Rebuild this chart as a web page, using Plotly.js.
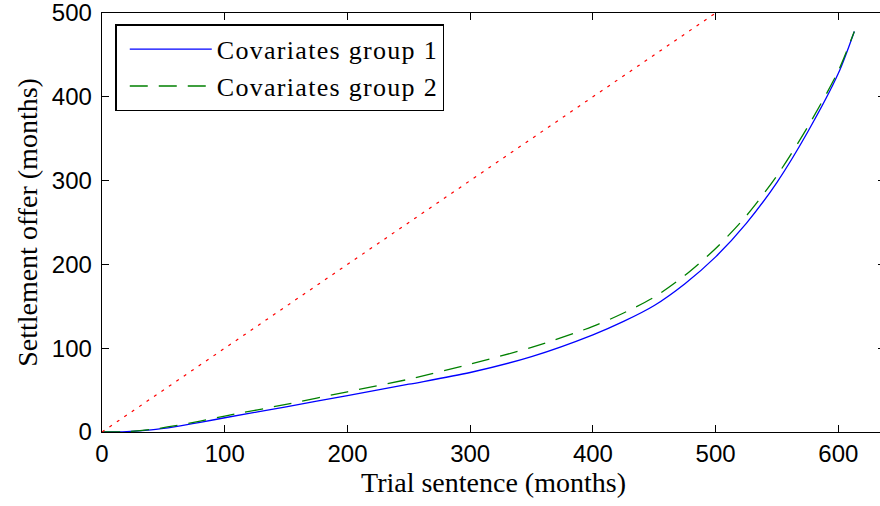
<!DOCTYPE html>
<html>
<head>
<meta charset="utf-8">
<script src="https://cdn.plot.ly/plotly-3.0.1.min.js"></script>
<style>
html,body{margin:0;padding:0;overflow:hidden;background:#fff}
.legendtext{letter-spacing:1.3px}
</style>
</head>
<body>
<div id="chart" style="width:885px;height:506px"></div>
<script>
// Trial sentence (months) vs settlement offer (months)
const xGroup1 = [0, 20, 40, 60, 80, 100, 150, 200, 250, 300, 350, 400, 425, 450, 475, 500, 525, 550, 575, 600, 613];
const yGroup1 = [0, 0.4, 2.5, 6.5, 11.5, 17, 30, 43.5, 57, 71, 90, 116, 132, 151, 177, 209, 249, 298, 358, 428, 478];
const xGroup2 = [0, 20, 40, 60, 80, 100, 150, 200, 250, 300, 350, 400, 425, 450, 475, 500, 525, 550, 575, 600, 613];
const yGroup2 = [0, 0.4, 3, 7.5, 13, 19, 33, 48, 63, 81, 101, 126, 142, 161, 187, 219, 258, 306, 364, 431, 478];
const xDiag = [0, 640];
const yDiag = [0, 640];
const seriesNames = ["Covariates group 1", "Covariates group 2"];
const xTicks = [0, 100, 200, 300, 400, 500, 600];
const yTicks = [0, 100, 200, 300, 400, 500];

const traces = [
  {x: xGroup1, y: yGroup1, name: seriesNames[0], type: "scatter", mode: "lines",
   line: {color: "#0000ff", width: 1.3, shape: "spline", smoothing: 0.8}},
  {x: xGroup2, y: yGroup2, name: seriesNames[1], type: "scatter", mode: "lines",
   line: {color: "#008000", width: 1.3, dash: "18px,11px", shape: "spline", smoothing: 0.8}},
  {x: xDiag, y: yDiag, name: "diag", type: "scatter", mode: "lines", showlegend: false,
   line: {color: "#ff0000", width: 1.2, dash: "3px,6px"}}
];

const axisCommon = {
  showgrid: false, zeroline: false, showline: true, linecolor: "#000", linewidth: 1.3,
  ticks: "inside", ticklen: 7, tickwidth: 1, tickcolor: "#000", mirror: "ticks",
  ticklabeloverflow: "allow",
  tickfont: {family: "Liberation Sans, Arial, sans-serif", size: 24, color: "#000"}
};

const layout = {
  width: 885, height: 506,
  margin: {l: 101.5, r: 0, t: 12.5, b: 73.7},
  paper_bgcolor: "#fff", plot_bgcolor: "#fff",
  showlegend: true,
  xaxis: Object.assign({}, axisCommon, {
    range: [0, 638], tickvals: xTicks, ticktext: xTicks.map(String),
    title: {text: "Trial sentence (months)", standoff: 4,
            font: {family: "Liberation Serif, Times New Roman, serif", size: 28, color: "#000"}}
  }),
  yaxis: Object.assign({}, axisCommon, {
    range: [0, 500], tickvals: yTicks, ticktext: yTicks.map(String), ticklabelstandoff: 4,
    title: {text: "Settlement offer (months)", standoff: 6,
            font: {family: "Liberation Serif, Times New Roman, serif", size: 28, color: "#000"}}
  }),
  legend: {
    x: 0.0172, y: 0.9726, xanchor: "left", yanchor: "top",
    bgcolor: "#fff", bordercolor: "#000", borderwidth: 1.3,
    itemwidth: 82, indentation: 8, tracegroupgap: 0,
    font: {family: "Liberation Serif, Times New Roman, serif", size: 26, color: "#000"}
  }
};

Plotly.newPlot("chart", traces, layout, {displayModeBar: false, staticPlot: true});
</script>
</body>
</html>
